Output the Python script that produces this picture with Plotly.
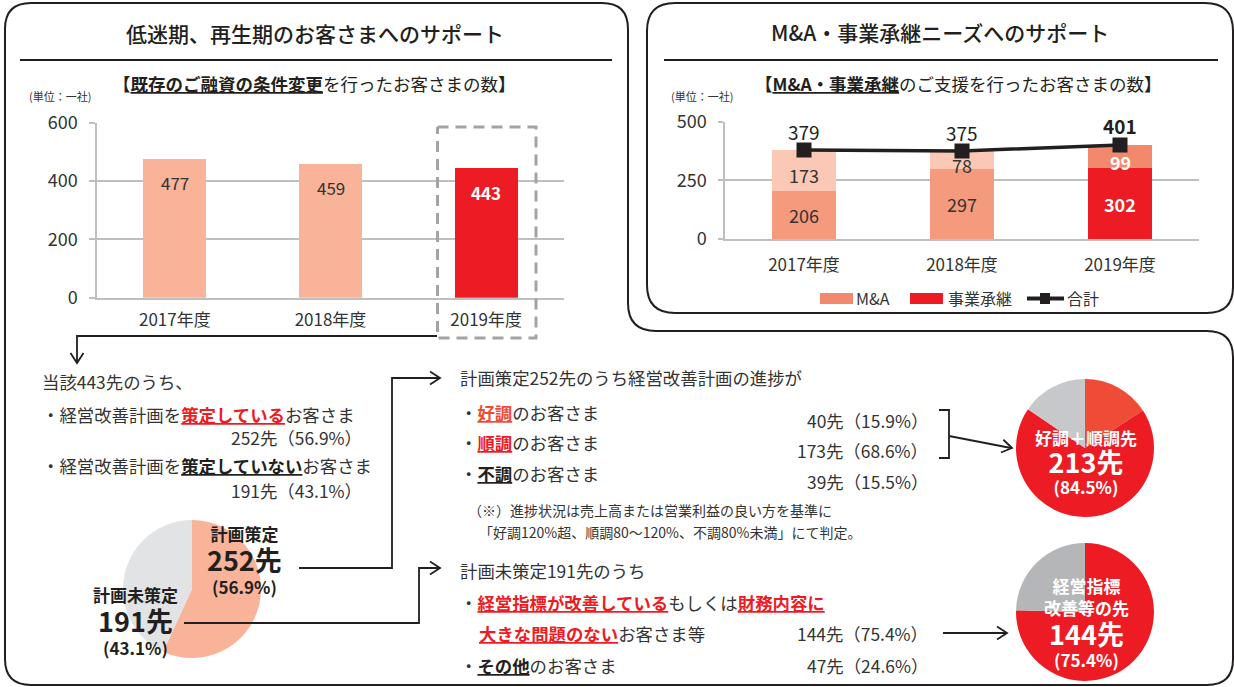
import math
import plotly.graph_objects as go

W, H = 1234, 687
FONT = "Noto Sans CJK JP"

# ---------------- data ----------------
years = ["2017年度", "2018年度", "2019年度"]
loan_change = [477, 459, 443]          # 既存のご融資の条件変更
succession = [206, 297, 302]           # 事業承継
ma_deals = [173, 78, 99]               # M&A
totals = [379, 375, 401]               # 合計
left_ticks = [0, 200, 400, 600]
right_ticks = [0, 250, 500]

plan_labels = ["計画策定", "計画未策定"]
plan_values = [252, 191]
progress_labels = ["好調", "順調", "不調"]
progress_values = [40, 173, 39]
unplanned_labels = ["経営指標改善等", "その他"]
unplanned_values = [144, 47]

# ---------------- colours ----------------
DARK = "#231F20"
TXT = "#333333"
RED = "#ED1C24"
ORANGE = "#EF4B36"
LIGHT = "#F8B399"
GRID = "#BFBFBF"
loan_colors = [LIGHT, LIGHT, RED]
succ_colors = ["#F59A7D", "#F59A7D", RED]
ma_colors = ["#FAC8B5", "#FAC8B5", "#F3896C"]
BODY = 17.4


def px(x):
    return x / W


def py(y):
    return 1 - y / H


def pt(x, y):
    return f"{px(x):.5f},{py(y):.5f}"


fig = go.Figure()

# ---------------- bar chart 1 ----------------
fig.add_trace(go.Bar(x=years, y=loan_change, marker=dict(color=loan_colors, line=dict(width=0)),
                     width=0.405, xaxis="x", yaxis="y", hoverinfo="skip"))

# ---------------- bar chart 2 ----------------
fig.add_trace(go.Bar(x=years, y=succession, name="事業承継", marker=dict(color=succ_colors, line=dict(width=0)),
                     width=0.405, xaxis="x2", yaxis="y2", hoverinfo="skip"))
fig.add_trace(go.Bar(x=years, y=ma_deals, name="M&A", marker=dict(color=ma_colors, line=dict(width=0)),
                     width=0.405, xaxis="x2", yaxis="y2", hoverinfo="skip"))
fig.add_trace(go.Scatter(x=years, y=totals, name="合計", mode="lines+markers",
                         line=dict(color=DARK, width=3.5),
                         marker=dict(symbol="square", size=15, color=DARK),
                         xaxis="x2", yaxis="y2", hoverinfo="skip"))

# ---------------- pies ----------------
def dom(cx, cy, r):
    return dict(x=[px(cx - r), px(cx + r)], y=[py(cy + r), py(cy - r)])


fig.add_trace(go.Pie(labels=plan_labels, values=plan_values, sort=False, direction="clockwise", rotation=0,
                     marker=dict(colors=[LIGHT, "#E2E3E5"], line=dict(width=0)), automargin=False,
                     textinfo="none", hoverinfo="skip", domain=dom(192, 589, 69)))
fig.add_trace(go.Pie(labels=progress_labels, values=progress_values, sort=False, direction="clockwise", rotation=0,
                     marker=dict(colors=[ORANGE, RED, "#C7C8CA"], line=dict(width=0)), automargin=False,
                     textinfo="none", hoverinfo="skip", domain=dom(1085, 448, 69)))
fig.add_trace(go.Pie(labels=unplanned_labels, values=unplanned_values, sort=False, direction="clockwise", rotation=0,
                     marker=dict(colors=[RED, "#B5B6B8"], line=dict(width=0)), automargin=False,
                     textinfo="none", hoverinfo="skip", domain=dom(1085, 612, 69)))

ann = []


def txt(x, y, text, size=BODY, color=TXT, anchor="left", weight=None):
    f = dict(size=size, color=color, family=FONT)
    if weight:
        f["weight"] = weight
    ann.append(dict(x=px(x), y=py(y), xref="paper", yref="paper", text=text, showarrow=False,
                    xanchor=anchor, yanchor="middle", font=f))


def stack(x, items, s, color):
    """One multi-line bold label; items = (text, visual centre y, font size)."""
    bs = [c + 0.375 * f for (_, c, f) in items]
    ks = [round((b - bs[0]) / s) for b in bs]
    b0 = sum(b - k * s for b, k in zip(bs, ks)) / len(bs)
    lines = [""] * (ks[-1] + 1)
    for (t, _, f), k in zip(items, ks):
        lines[k] = f"<span style='font-size:{f}px'><b>{t}</b></span>"
    top = b0 - 1.16 * items[0][2]
    bottom = b0 + ks[-1] * s + 0.288 * items[-1][2]
    ann.append(dict(x=px(x), y=py((top + bottom) / 2), xref="paper", yref="paper", text="<br>".join(lines),
                    showarrow=False, xanchor="center", yanchor="middle", align="center",
                    font=dict(size=s / 1.3, color=color, family=FONT)))


# value labels chart 1
for yr, v, c in zip(years, loan_change, loan_colors):
    white = c == RED
    ann.append(dict(x=yr, y=v, xref="x", yref="y", text=f"<b>{v}</b>" if white else str(v),
                    showarrow=False, yshift=-24, yanchor="middle",
                    font=dict(size=17, color="white" if white else TXT, family=FONT)))

# value labels chart 2
for i, yr in enumerate(years):
    white = i == 2
    ann.append(dict(x=yr, y=succession[i] / 2, xref="x2", yref="y2",
                    text=f"<b>{succession[i]}</b>" if white else str(succession[i]), showarrow=False,
                    yanchor="middle", font=dict(size=18, color="white" if white else TXT, family=FONT)))
    ann.append(dict(x=yr, y=succession[i] + ma_deals[i] / 2, xref="x2", yref="y2",
                    text=f"<b>{ma_deals[i]}</b>" if white else str(ma_deals[i]), showarrow=False,
                    yanchor="middle", yshift=-5,
                    font=dict(size=18, color="white" if white else TXT, family=FONT)))
    ann.append(dict(x=yr, y=totals[i], xref="x2", yref="y2",
                    text=f"<b>{totals[i]}</b>" if white else str(totals[i]), showarrow=False,
                    yanchor="middle", yshift=19, font=dict(size=19, color=DARK, family=FONT)))

# titles
txt(315, 33, "低迷期、再生期のお客さまへのサポート", 21, DARK, "center", weight=500)
txt(940, 32, "M&A・事業承継ニーズへのサポート", 21, DARK, "center", weight=500)
txt(314, 83, "<b>【<u>既存のご融資の条件変更</u></b>を行ったお客さまの数<b>】</b>", 17.5, DARK, "center")
txt(958, 83, "<b>【<u>M&A・事業承継</u></b>のご支援を行ったお客さまの数<b>】</b>", 17.5, DARK, "center")
txt(27, 96, "(単位：一社)", 11, TXT)
txt(669, 96, "(単位：一社)", 11, TXT)

# legend chart 2 (manual)
txt(854, 298, "M&A", 16, TXT)
txt(946, 298, "事業承継", 16, TXT)
txt(1065, 298, "合計", 16, TXT)

# lower-left text
R = f"<span style='color:{RED}'>"
O = f"<span style='color:{ORANGE}'>"
K = f"<span style='color:{DARK}'>"
txt(40, 381, "当該443先のうち、")
txt(40, 414, f"・経営改善計画を{R}<b><u>策定している</u></b></span>お客さま")
txt(364, 437, "252先（56.9%）", anchor="right")
txt(40, 465, f"・経営改善計画を{K}<b><u>策定していない</u></b></span>お客さま")
txt(364, 490, "191先（43.1%）", anchor="right")

stack(244, [("計画策定", 534, 17), ("252先", 561, 27), ("(56.9%)", 587, 17)], 7.5, DARK)
stack(135, [("計画未策定", 596, 17), ("191先", 622, 27), ("(43.1%)", 648, 17)], 7.5, DARK)

# middle text
txt(458, 378, "計画策定252先のうち経営改善計画の進捗が")
txt(458, 412, f"・{O}<b><u>好調</u></b></span>のお客さま")
txt(930, 420, "40先（15.9%）", anchor="right")
txt(458, 442, f"・{R}<b><u>順調</u></b></span>のお客さま")
txt(930, 450, "173先（68.6%）", anchor="right")
txt(458, 473, f"・{K}<b><u>不調</u></b></span>のお客さま")
txt(930, 481, "39先（15.5%）", anchor="right")
txt(466, 510, "（※）進捗状況は売上高または営業利益の良い方を基準に", 14)
txt(477, 532, "「好調120%超、順調80～120%、不調80%未満」にて判定。", 14)

txt(458, 570, "計画未策定191先のうち")
txt(458, 602, f"・{R}<b><u>経営指標が改善している</u></b></span>もしくは{R}<b><u>財務内容に</u></b></span>")
txt(477, 633, f"{R}<b><u>大きな問題のない</u></b></span>お客さま等")
txt(930, 633, "144先（75.4%）", anchor="right")
txt(458, 665, f"・{K}<b><u>その他</u></b></span>のお客さま")
txt(930, 665, "47先（24.6%）", anchor="right")

# right pie labels
stack(1086, [("好調＋順調先", 439, 17), ("213先", 463, 27), ("(84.5%)", 488, 17)], 7.0, "white")
stack(1086, [("経営指標", 587, 17), ("改善等の先", 608, 17), ("144先", 634, 27), ("(75.4%)", 660, 17)],
      7.4, "white")

# ---------------- shapes ----------------
shapes = []


def pshape(d, color=DARK, width=2, dash="solid", fill=None):
    s = dict(type="path", path=d, xref="paper", yref="paper", line=dict(color=color, width=width, dash=dash))
    if fill:
        s["fillcolor"] = fill
    shapes.append(s)


def poly(points, **kw):
    pshape("M " + " L ".join(pt(x, y) for x, y in points), **kw)


def head(tx, ty, fx, fy, size=10, spread=6.5):
    dx, dy = tx - fx, ty - fy
    L = math.hypot(dx, dy)
    ux, uy = dx / L, dy / L
    nx, ny = -uy, ux
    bx, by = tx - ux * size, ty - uy * size
    poly([(bx + nx * spread, by + ny * spread), (tx, ty), (bx - nx * spread, by - ny * spread)], width=1.8)


# outer outline (left panel + lower panel)
r = 26
outer = (f"M {pt(5 + r, 3)} L {pt(628 - r, 3)} Q {pt(628, 3)} {pt(628, 3 + r)} L {pt(628, 331 - 28)} "
         f"Q {pt(628, 331)} {pt(656, 331)} L {pt(1233 - r, 331)} Q {pt(1233, 331)} {pt(1233, 331 + r)} "
         f"L {pt(1233, 685 - r)} Q {pt(1233, 685)} {pt(1233 - r, 685)} L {pt(5 + r, 685)} "
         f"Q {pt(5, 685)} {pt(5, 685 - r)} L {pt(5, 3 + r)} Q {pt(5, 3)} {pt(5 + r, 3)} Z")
pshape(outer, width=2)
# right panel
rp = (f"M {pt(647 + 28, 3)} L {pt(1233 - 28, 3)} Q {pt(1233, 3)} {pt(1233, 31)} L {pt(1233, 313 - 26)} "
      f"Q {pt(1233, 313)} {pt(1233 - 26, 313)} L {pt(647 + 28, 313)} Q {pt(647, 313)} {pt(647, 313 - 28)} "
      f"L {pt(647, 31)} Q {pt(647, 3)} {pt(647 + 28, 3)} Z")
pshape(rp, width=2)

# title rules
poly([(20, 60), (612, 60)], width=2)
poly([(664, 60), (1218, 60)], width=2)

# dashed box around 2019
poly([(437.5, 127), (536, 127), (536, 338), (437.5, 338), (437.5, 127)], color="#A3A3A3", width=3,
     dash="11px,7px")

# connectors
poly([(437, 336), (77, 336), (77, 362)], width=1.8)
head(77, 363, 77, 336)
poly([(299, 568), (392, 568), (392, 378), (439, 378)], width=1.8)
head(440, 378, 392, 378)
poly([(184, 623), (419, 623), (419, 568), (439, 568)], width=1.8)
head(440, 568, 419, 568)
poly([(939, 410), (949, 410), (949, 458), (939, 458)], width=1.8)
poly([(949, 436), (1011, 448)], width=1.8)
head(1012, 448, 949, 436)
poly([(943, 633), (1006, 633)], width=1.8)
head(1007, 633, 943, 633)

# manual legend symbols
shapes.append(dict(type="rect", xref="paper", yref="paper", x0=px(820), x1=px(853), y0=py(304), y1=py(293),
                   fillcolor="#F3896C", line=dict(width=0)))
shapes.append(dict(type="rect", xref="paper", yref="paper", x0=px(910), x1=px(943), y0=py(304), y1=py(293),
                   fillcolor=RED, line=dict(width=0)))
poly([(1027, 298.5), (1064, 298.5)], width=4)
shapes.append(dict(type="rect", xref="paper", yref="paper", x0=px(1040), x1=px(1050), y0=py(304), y1=py(293),
                   fillcolor=DARK, line=dict(width=0)))

axis_font = dict(family=FONT, size=18, color=TXT)
fig.update_layout(
    width=W, height=H, margin=dict(l=0, r=0, t=0, b=0, pad=0, autoexpand=False), autosize=False,
    paper_bgcolor="white", plot_bgcolor="white", showlegend=False,
    barmode="stack", font=dict(family=FONT, color=TXT),
    xaxis=dict(domain=[px(97), px(564)], showgrid=False, showline=True, linecolor=GRID, linewidth=1.5,
               ticks="", tickfont=dict(family=FONT, size=17, color=TXT), ticklabelstandoff=6,
               automargin=False, fixedrange=True),
    yaxis=dict(domain=[py(297.7), py(122.7)], range=[0, 600], tickvals=left_ticks, showgrid=True,
               gridcolor=GRID, gridwidth=1.5, showline=True, linecolor=GRID, linewidth=1.5, zeroline=False,
               ticks="outside", ticklen=6, tickcolor=GRID, tickwidth=1.5, tickfont=axis_font,
               ticklabelstandoff=8, automargin=False, fixedrange=True),
    xaxis2=dict(domain=[px(725), px(1199)], anchor="y2", showgrid=False, showline=True, linecolor=GRID,
                linewidth=1.5, ticks="", tickfont=dict(family=FONT, size=17, color=TXT), ticklabelstandoff=10,
                automargin=False, fixedrange=True),
    yaxis2=dict(domain=[py(239), py(121.7)], anchor="x2", range=[0, 500], tickvals=right_ticks, showgrid=True,
                gridcolor=GRID, gridwidth=1.5, showline=True, linecolor=GRID, linewidth=1.5, zeroline=False,
                ticks="outside", ticklen=5, tickcolor=GRID, tickwidth=1.5, tickfont=axis_font,
                ticklabelstandoff=8, automargin=False, fixedrange=True),
    annotations=ann, shapes=shapes,
)

reset_css = ("document.documentElement.style.margin='0';document.documentElement.style.padding='0';"
             "document.documentElement.style.overflow='hidden';document.body.style.margin='0';"
             "document.body.style.padding='0';document.body.style.overflow='hidden';")
fig.write_html("out.html", config={"displayModeBar": False, "responsive": False},
               default_width=f"{W}px", default_height=f"{H}px", post_script=reset_css)
